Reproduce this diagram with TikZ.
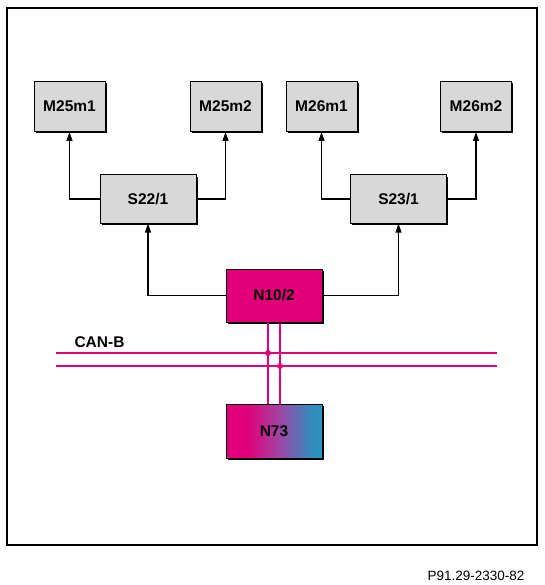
\documentclass[tikz,border=0pt]{standalone}
\usepackage{fontspec}
\setmainfont{Liberation Sans}
\usepackage{tikz}
\usetikzlibrary{arrows.meta,positioning,calc,shadows}
\definecolor{boxGray}{RGB}{216,216,216}
\definecolor{canMagenta}{RGB}{226,0,122}
\definecolor{busPurple}{RGB}{160,70,165}
\definecolor{busBlue}{RGB}{40,150,195}
\pgfdeclarehorizontalshading{magblue}{100bp}{color(0bp)=(canMagenta); color(36bp)=(canMagenta);
  color(53bp)=(busPurple); color(68bp)=(busBlue!90!canMagenta); color(75bp)=(busBlue); color(100bp)=(busBlue)}

\begin{document}
\begin{tikzpicture}[x=1pt,y=-1pt,
        unit/.style={draw=black, fill=boxGray, line width=1pt, minimum width=71pt,
          minimum height=50pt, font=\fontsize{15.5}{17}\selectfont\bfseries,
          general shadow={fill=black, shadow xshift=1.6pt, shadow yshift=-1.6pt}},
        switchbox/.style={unit, minimum width=96pt, minimum height=48pt},
        ctrl/.style={unit, fill=canMagenta, minimum width=96pt, minimum height=53pt},
        link/.style={line width=1.2pt, -{Triangle[length=9pt,width=6pt]}},
        bus/.style={draw=canMagenta, line width=2.2pt}
      ]
        \useasboundingbox (0,0) rectangle (544,585);
        \draw[line width=1.3pt] (7,8) rectangle (537,545);

        \node[unit] (m25m1) at (69.5,106.5) {M25m1};
        \node[unit] (m25m2) at (225.5,106.5) {M25m2};
        \node[unit] (m26m1) at (321.5,106.5) {M26m1};
        \node[unit] (m26m2) at (476,106.5) {M26m2};
        \node[switchbox] (s221) at (148,199) {S22/1};
        \node[switchbox] (s231) at (398.5,199) {S23/1};
        \node[ctrl] (n102) at (274,295.5) {N10/2};
        \node[ctrl, shading=magblue, minimum height=54pt] (n73) at (274,431) {N73};

        \draw[link] (s221.west) -| (m25m1.south);
        \draw[link] (s221.east) -| (m25m2.south);
        \draw[link] (s231.west) -| (m26m1.south);
        \draw[link] (s231.east) -| (m26m2.south);
        \draw[link] (n102.west) -| (s221.south);
        \draw[link] (n102.east) -| (s231.south);

        \node[anchor=base west, font=\fontsize{15.5}{17}\selectfont\bfseries] (canb) at (71,347) {CAN-B};
        \coordinate (canHw) at (56,353);
        \coordinate (canHe) at (497,353);
        \coordinate (canLw) at (56,366);
        \coordinate (canLe) at (497,366);
        \draw[bus] (canHw) -- (canHe);
        \draw[bus] (canLw) -- (canLe);
        \draw[bus] ([xshift=-6pt]n102.south) -- ([xshift=-6pt]n73.north);
        \draw[bus] ([xshift=6pt]n102.south) -- ([xshift=6pt]n73.north);
        \fill[canMagenta] ([xshift=-6pt]n102.south |- canHw) circle (3pt);
        \fill[canMagenta] ([xshift=6pt]n102.south |- canLw) circle (3pt);

        \node[anchor=base east, font=\fontsize{13.5}{16}\selectfont] (figno) at (528,580) {P91.29-2330-82};
      \end{tikzpicture}
\end{document}
